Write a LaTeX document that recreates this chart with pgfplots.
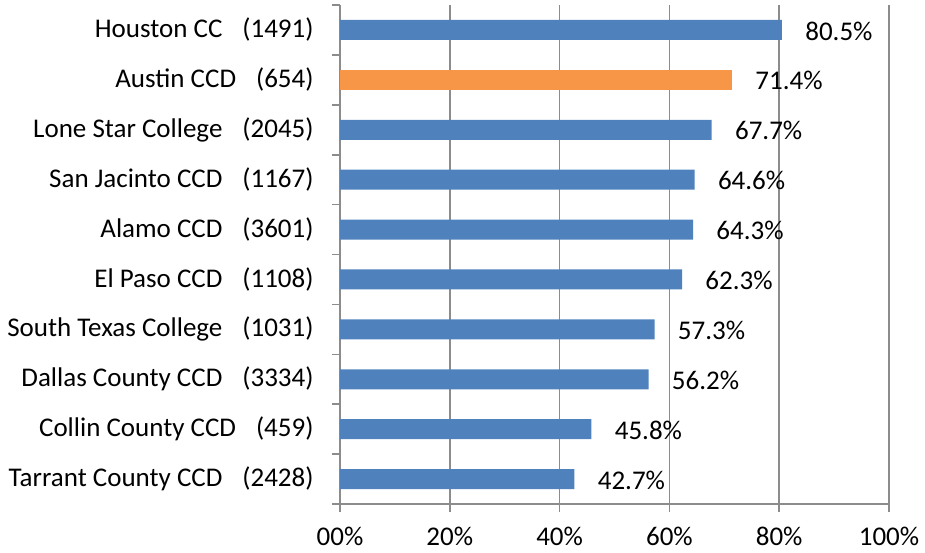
\documentclass[border=0pt]{standalone}
\usepackage{pgfplots}
\pgfplotsset{compat=1.18}
\usepackage{fontspec}
\setmainfont{Carlito}
\definecolor{barblue}{HTML}{4F81BD}
\definecolor{barorange}{HTML}{F79646}
\definecolor{axgray}{HTML}{8C8C8C}
\begin{document}
\fontsize{13.5}{15}\selectfont
\begin{tikzpicture}
\path[use as bounding box] (-170pt,-24pt) rectangle (292.5pt,252pt);
\begin{axis}[
    at={(0,0)}, anchor=south west,
    scale only axis,
    width=274.5pt, height=249.5pt,
    xbar, bar width=10pt, bar shift=0pt,
    xmin=0, xmax=100,
    ymin=-0.5, ymax=9.5,
    axis lines*=left,
    axis line style={axgray, line width=0.8pt},
    xtick={0,20,40,60,80,100},
    xticklabels={00\%,20\%,40\%,60\%,80\%,100\%},
    xmajorgrids, grid style={axgray, line width=0.8pt},
    tick align=outside, major tick length=4pt,
    tick style={axgray, line width=0.8pt},
    xticklabel style={yshift=-3pt},
    ytick={-0.5,0.5,...,9.5},
    yticklabels={},
    extra y ticks={0,...,9},
    extra y tick labels={
        Tarrant County CCD\hspace{10pt}(2428),
        Collin County CCD\hspace{10pt}(459),
        Dallas County CCD\hspace{10pt}(3334),
        South Texas College\hspace{10pt}(1031),
        El Paso CCD\hspace{10pt}(1108),
        Alamo CCD\hspace{10pt}(3601),
        San Jacinto CCD\hspace{10pt}(1167),
        Lone Star College\hspace{10pt}(2045),
        Austin CCD\hspace{10pt}(654),
        Houston CC\hspace{10pt}(1491)},
    extra y tick style={major tick length=0pt, tick style={draw=none},
        yticklabel style={xshift=-8.5pt}},
    /pgf/number format/assume math mode=true,
    nodes near coords={\pgfmathprintnumber[fixed,fixed zerofill,precision=1]{\pgfplotspointmeta}\%},
    nodes near coords style={anchor=west, xshift=7pt, yshift=-0.5pt, text=black},
    point meta=x,
]
\addplot[fill=barblue, draw=none] coordinates {
    (42.7,0) (45.8,1) (56.2,2) (57.3,3) (62.3,4) (64.3,5) (64.6,6) (67.7,7) (80.5,9)
};
\addplot[fill=barorange, draw=none] coordinates {
    (71.4,8)
};
\end{axis}
\end{tikzpicture}
\end{document}
